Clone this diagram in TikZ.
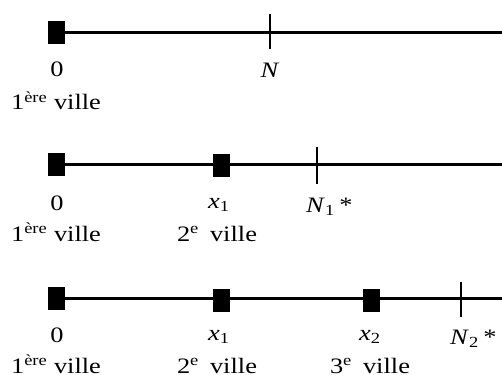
\documentclass[tikz,border=0pt]{standalone}
\usepackage{graphicx}
\usepackage{fontspec}
\setmainfont{Liberation Serif}
\newcommand\sx[1]{\scalebox{1.2}[1]{#1}}
\begin{document}
\begin{tikzpicture}[x=1pt,y=-1pt,
  every node/.style={font=\fontsize{22}{26}\selectfont},
  lbl/.style={anchor=base, inner sep=0pt},
  lblw/.style={anchor=base west, inner sep=0pt},
  city/.style={draw=none, fill=black, minimum width=17pt, minimum height=23pt, inner sep=0pt},
  axis/.style={line width=3pt},
  tick/.style={line width=2.6pt}]
\useasboundingbox (0,0) rectangle (502,374);
% row 1
\coordinate (e1) at (502,32.5);
\coordinate (t1a) at (270,14);
\coordinate (t1b) at (270,49);
\node[city] (a1) at (56.5,32.5) {};
\draw[axis] (a1.center) -- (e1);
\node[city] at (a1) {};
\draw[tick] (t1a) -- (t1b);
\node[lbl] (l10) at (57,77) {\sx{0}};
\node[lbl] (l1N) at (270,78) {\sx{\textit{N}}};
\node[lbl] (l1v) at (56,110) {\sx{1\textsuperscript{ère} ville}};
% row 2
\coordinate (e2) at (502,164.5);
\coordinate (t2a) at (317,147);
\coordinate (t2b) at (317,184);
\node[city] (a2) at (56.5,164.5) {};
\node[city] (b2) at (221,165.5) {};
\draw[axis] (a2.center) -- (e2);
\node[city] at (a2) {};
\node[city] at (b2) {};
\draw[tick] (t2a) -- (t2b);
\node[lbl] (l20) at (57,210) {\sx{0}};
\node[lbl] (l2x) at (219,208) {\sx{\textit{x}\textsubscript{1}}};
\node[lblw] (l2N) at (306,212) {\sx{\textit{N}\textsubscript{1}\,*}};
\node[lbl] (l2v) at (56,241) {\sx{1\textsuperscript{ère} ville}};
\node[lbl] (l2w) at (217,241) {\sx{2\textsuperscript{e}\, ville}};
% row 3
\coordinate (e3) at (502,298);
\coordinate (t3a) at (461,282);
\coordinate (t3b) at (461,317);
\node[city] (a3) at (56.5,298) {};
\node[city] (b3) at (221,300) {};
\node[city] (c3) at (371,300.5) {};
\draw[axis] (a3.center) -- (e3);
\node[city] at (a3) {};
\node[city] at (b3) {};
\node[city] at (c3) {};
\draw[tick] (t3a) -- (t3b);
\node[lbl] (l30) at (57,342) {\sx{0}};
\node[lbl] (l3x) at (219,340) {\sx{\textit{x}\textsubscript{1}}};
\node[lbl] (l3y) at (370,340) {\sx{\textit{x}\textsubscript{2}}};
\node[lblw] (l3N) at (450,344) {\sx{\textit{N}\textsubscript{2}\,*}};
\node[lbl] (l3v) at (56,373) {\sx{1\textsuperscript{ère} ville}};
\node[lbl] (l3w) at (217,373) {\sx{2\textsuperscript{e}\, ville}};
\node[lbl] (l3z) at (370,373) {\sx{3\textsuperscript{e}\, ville}};
\end{tikzpicture}
\end{document}
